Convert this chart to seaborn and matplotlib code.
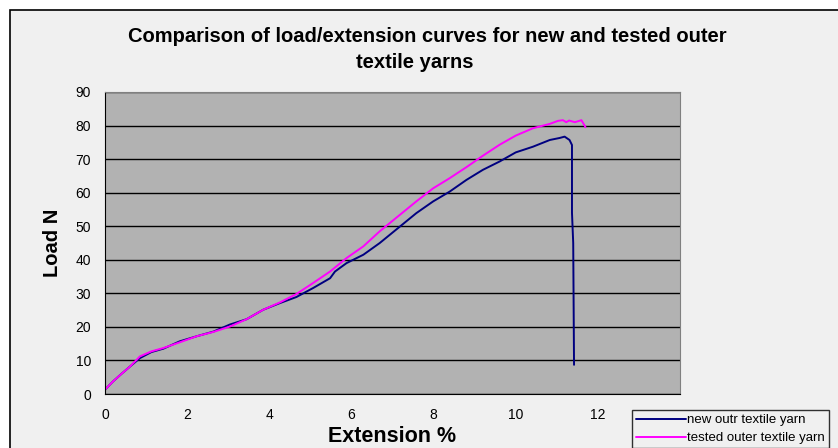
import numpy as np
import pandas as pd
import matplotlib
matplotlib.use("Agg")
import matplotlib.pyplot as plt
import seaborn as sns
from matplotlib.patches import Rectangle

# ==========================================
# DATA
# ==========================================
new_ext = [0, 0.2, 0.4, 0.61, 0.85, 1.13, 1.42, 1.82, 2.23, 2.64, 3.04, 3.45,
           3.85, 4.26, 4.66, 5.07, 5.48, 5.6, 5.88, 6.29, 6.69, 7.18, 7.58,
           7.99, 8.39, 8.80, 9.2, 9.61, 10.0, 10.42, 10.83, 11.07, 11.19,
           11.31, 11.37, 11.37, 11.40, 11.42]
new_load = [1.3, 3.8, 6.0, 8.2, 10.7, 12.5, 13.5, 15.7, 17.2, 18.6, 20.7, 22.3,
            25.1, 27.1, 28.9, 31.6, 34.5, 36.5, 39.0, 41.5, 45.0, 49.9, 53.9,
            57.4, 60.3, 63.8, 66.8, 69.3, 72.0, 73.7, 75.7, 76.3, 76.7,
            75.7, 74.2, 54.0, 45.0, 8.7]

tested_ext = [0, 0.2, 0.4, 0.61, 0.85, 1.13, 1.42, 1.82, 2.23, 2.64, 3.04, 3.45,
              3.85, 4.26, 4.66, 5.07, 5.48, 5.88, 6.29, 6.69, 7.18, 7.58, 7.99,
              8.39, 8.80, 9.2, 9.61, 10.0, 10.42, 10.83, 11.03, 11.15, 11.23,
              11.3, 11.44, 11.6, 11.7]
tested_load = [1.3, 3.8, 6.0, 8.2, 11.2, 12.7, 13.7, 15.4, 17.2, 18.5, 20.1, 22.3,
               25.1, 27.3, 29.8, 33.1, 36.5, 40.5, 44.0, 48.5, 53.4, 57.4, 61.3,
               64.3, 67.6, 71.0, 74.3, 77.0, 79.2, 80.5, 81.4, 81.6, 81.0,
               81.5, 81.0, 81.6, 79.5]

series_names = ["new outr textile yarn", "tested outer textile yarn"]
series_colors = ["#000080", "#ff00ff"]

x_ticks = [0, 2, 4, 6, 8, 10, 12, 14]
x_tick_labels = ["0", "2", "4", "6", "8", "10", "12", ""]
y_ticks = list(range(0, 100, 10))

# ==========================================
# PLOT
# ==========================================
sns.set_style("white")
plt.rcParams['font.family'] = ['Liberation Sans', 'DejaVu Sans']
plt.rcParams['text.color'] = 'black'
plt.rcParams['axes.labelcolor'] = 'black'
plt.rcParams['xtick.color'] = 'black'
plt.rcParams['ytick.color'] = 'black'

df = pd.concat([
    pd.DataFrame({"Extension": new_ext, "Load": new_load, "Series": series_names[0]}),
    pd.DataFrame({"Extension": tested_ext, "Load": tested_load, "Series": series_names[1]}),
], ignore_index=True)

fig = plt.figure(figsize=(8.38, 4.48), dpi=100, facecolor="white")
# chart area frame like the spreadsheet chart
fig.patches.append(Rectangle((10 / 838, -0.05), 1.0, 1 - 10 / 448 + 0.05,
                             transform=fig.transFigure, facecolor="#f0f0f0",
                             edgecolor="black", linewidth=1.2, zorder=-5))

ax = fig.add_axes([105 / 838, 1 - 394 / 448, (680 - 105) / 838, (394 - 92) / 448])
ax.set_zorder(2)
ax.set_facecolor("#b2b2b2")

sns.lineplot(data=df, x="Extension", y="Load", hue="Series",
             palette=dict(zip(series_names, series_colors)),
             estimator=None, sort=False, linewidth=1.4, ax=ax)

ax.set_xlim(0, 14)
ax.set_ylim(0, 90)
ax.set_xticks(x_ticks)
ax.set_xticklabels(x_tick_labels)
ax.set_yticks(y_ticks)
ax.tick_params(axis="both", direction="out", length=5, width=1, color="black",
               labelsize=10, pad=5)
ax.yaxis.grid(True, color="black", linewidth=1)
ax.set_axisbelow(True)
for side in ["top", "right"]:
    ax.spines[side].set_color("#808080")
for side in ["left", "bottom"]:
    ax.spines[side].set_color("black")

ax.set_xlabel("Extension %", fontsize=15.5, fontweight="bold", labelpad=3)
ax.set_ylabel("Load N", fontsize=14.5, fontweight="bold", labelpad=10)

fig.text(0.51, 1 - 37 / 448, "Comparison of load/extension curves for new and tested outer",
         ha="center", va="center", fontsize=14.5, fontweight="bold")
fig.text(0.495, 1 - 62 / 448, "textile yarns",
         ha="center", va="center", fontsize=14.5, fontweight="bold")

leg = ax.legend(loc="upper left", bbox_to_anchor=(632 / 838, 1 - 410 / 448),
                bbox_transform=fig.transFigure, frameon=True, fancybox=False,
                fontsize=9.5, handlelength=3.8, handletextpad=0.1,
                borderpad=0.3, labelspacing=0.45, borderaxespad=0)
leg.get_frame().set_edgecolor("black")
leg.get_frame().set_facecolor("#f0f0f0")
leg.get_frame().set_linewidth(1)

fig.savefig("out.png", dpi=100, facecolor=fig.get_facecolor())
